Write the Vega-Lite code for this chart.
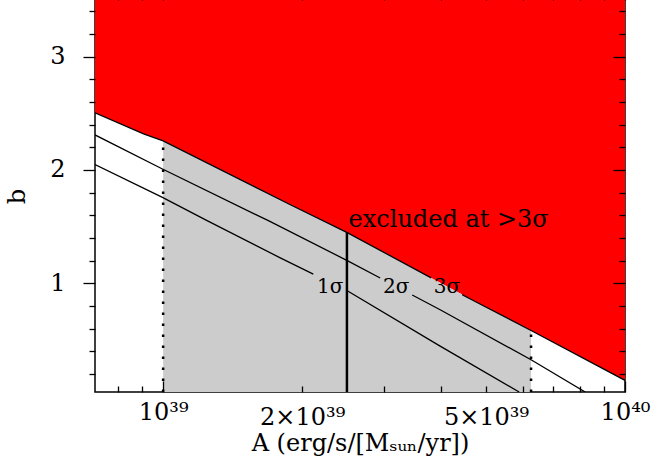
{
  "$schema": "https://vega.github.io/schema/vega-lite/v6.json",
  "width": 530,
  "height": 392,
  "autosize": {"type": "none"},
  "padding": {"left": 95, "top": 0, "right": 47, "bottom": 73},
  "background": "white",
  "config": {
    "view": {"stroke": "black", "strokeWidth": 1.5},
    "axis": {
      "domain": false, "grid": false, "tickColor": "black", "tickWidth": 1.3,
      "labelFont": "DejaVu Serif", "titleFont": "DejaVu Serif",
      "labelFontSize": 24, "titleFontSize": 24, "titleFontWeight": "normal",
      "labelColor": "black", "titleColor": "black", "labelOverlap": false, "labelFlush": false, "labelBound": false
    }
  },
  "datasets": {
    "boundary": [
      {"A": 7.12e38, "b": 2.504}, {"A": 9.07e38, "b": 2.319}, {"A": 1e39, "b": 2.257},
      {"A": 1.886e39, "b": 1.693}, {"A": 2.504e39, "b": 1.447}, {"A": 3.805e39, "b": 1.047},
      {"A": 4.44e39, "b": 0.9}, {"A": 4.692e39, "b": 0.848}, {"A": 6.26e39, "b": 0.583},
      {"A": 1e40, "b": 0.143}
    ],
    "contours": [
      {"A": 7.12e38, "b": 2.048, "seg": "1σ a"}, {"A": 9.966e38, "b": 1.758, "seg": "1σ a"},
      {"A": 1.245e39, "b": 1.552, "seg": "1σ a"}, {"A": 1.793e39, "b": 1.224, "seg": "1σ a"},
      {"A": 2.114e39, "b": 1.081, "seg": "1σ a"},
      {"A": 2.504e39, "b": 0.934, "seg": "1σ b"}, {"A": 3.979e39, "b": 0.445, "seg": "1σ b"},
      {"A": 5.9e39, "b": 0.04, "seg": "1σ b"},
      {"A": 7.12e38, "b": 2.309, "seg": "2σ a"}, {"A": 9.966e38, "b": 2.008, "seg": "2σ a"},
      {"A": 1.69e39, "b": 1.552, "seg": "2σ a"}, {"A": 2.504e39, "b": 1.2, "seg": "2σ a"},
      {"A": 2.951e39, "b": 1.046, "seg": "2σ a"},
      {"A": 3.462e39, "b": 0.896, "seg": "2σ b"}, {"A": 3.979e39, "b": 0.766, "seg": "2σ b"},
      {"A": 6.26e39, "b": 0.325, "seg": "2σ b"}, {"A": 8.2e39, "b": 0.04, "seg": "2σ b"},
      {"A": 7.12e38, "b": 2.504, "seg": "3σ a"}, {"A": 9.07e38, "b": 2.319, "seg": "3σ a"},
      {"A": 1e39, "b": 2.257, "seg": "3σ a"}, {"A": 1.886e39, "b": 1.693, "seg": "3σ a"},
      {"A": 2.504e39, "b": 1.447, "seg": "3σ a"}, {"A": 3.805e39, "b": 1.047, "seg": "3σ a"},
      {"A": 4.44e39, "b": 0.9, "seg": "3σ b"}, {"A": 4.692e39, "b": 0.848, "seg": "3σ b"},
      {"A": 6.26e39, "b": 0.583, "seg": "3σ b"}, {"A": 1e40, "b": 0.143, "seg": "3σ b"}
    ],
    "vlines": [
      {"A": 1e39, "b0": 0.04, "b1": 2.257, "kind": "limit"},
      {"A": 6.26e39, "b0": 0.04, "b1": 0.583, "kind": "limit"},
      {"A": 2.5e39, "b0": 0.04, "b1": 1.45, "kind": "best"}
    ],
    "sigmalabels": [
      {"A": 2.301e39, "b": 0.914, "text": "1σ"},
      {"A": 3.197e39, "b": 0.914, "text": "2σ"},
      {"A": 4.116e39, "b": 0.914, "text": "3σ"}
    ],
    "note": [
      {"A": 2.52e39, "b": 1.499, "text": "excluded at >3σ"}
    ]
  },
  "layer": [
    {
      "data": {"name": "boundary"},
      "mark": {"type": "area", "color": "#ff0000", "clip": true},
      "encoding": {
        "x": {"field": "A", "type": "quantitative",
          "scale": {"type": "log", "domain": [7.12e38, 1e40], "nice": false},
          "axis": {"orient": "top", "zindex": 2, "values": [8e38, 9e38, 1e39, 2e39, 3e39, 4e39, 5e39, 6e39, 7e39, 8e39, 9e39, 1e40],
            "labels": false, "title": null,
            "tickSize": {"condition": {"test": "datum.value == 1e39 || datum.value == 1e40", "value": 11}, "value": 6}}},
        "y": {"field": "b", "type": "quantitative",
          "scale": {"domain": [0.04, 3.5], "nice": false, "zero": false},
          "axis": {"orient": "right", "zindex": 2, "values": [0.2, 0.4, 0.6, 0.8, 1, 1.2, 1.4, 1.6, 1.8, 2, 2.2, 2.4, 2.6, 2.8, 3, 3.2, 3.4],
            "labels": false, "title": null,
            "tickSize": {"condition": {"test": "datum.value == 1 || datum.value == 2 || datum.value == 3", "value": -12}, "value": -6}}},
        "y2": {"datum": 3.5}
      }
    },
    {
      "data": {"name": "boundary"},
      "transform": [{"filter": "datum.A >= 1e39 && datum.A <= 6.26e39"}],
      "mark": {"type": "area", "color": "#cccccc", "clip": true},
      "encoding": {
        "x": {"field": "A", "type": "quantitative",
          "axis": {"orient": "bottom", "zindex": 2, "values": [8e38, 9e38, 1e39, 2e39, 3e39, 4e39, 5e39, 6e39, 7e39, 8e39, 9e39, 1e40],
            "labelExpr": "datum.value == 1e39 ? '10³⁹' : datum.value == 2e39 ? '2×10³⁹' : datum.value == 5e39 ? '5×10³⁹' : datum.value == 1e40 ? '10⁴⁰' : ''",
            "tickSize": {"condition": {"test": "datum.value == 1e39 || datum.value == 1e40", "value": -11}, "value": -6},
            "labelPadding": 19, "titlePadding": 2,
            "title": "A (erg/s/[Mₛᵤₙ/yr])"}},
        "y": {"field": "b", "type": "quantitative",
          "axis": {"orient": "left", "zindex": 2, "values": [0.2, 0.4, 0.6, 0.8, 1, 1.2, 1.4, 1.6, 1.8, 2, 2.2, 2.4, 2.6, 2.8, 3, 3.2, 3.4],
            "labelExpr": "datum.value == 1 || datum.value == 2 || datum.value == 3 ? '' + datum.value : ''",
            "tickSize": {"condition": {"test": "datum.value == 1 || datum.value == 2 || datum.value == 3", "value": 12}, "value": 6},
            "labelPadding": 18, "titlePadding": 20, "title": "b"}},
        "y2": {"datum": 0.04}
      }
    },
    {
      "data": {"name": "contours"},
      "mark": {"type": "line", "color": "black", "strokeWidth": 1.3, "clip": true},
      "encoding": {
        "x": {"field": "A", "type": "quantitative", "axis": null},
        "y": {"field": "b", "type": "quantitative", "axis": null},
        "detail": {"field": "seg"}
      }
    },
    {
      "data": {"name": "vlines"},
      "transform": [{"filter": "datum.kind == 'limit'"}],
      "mark": {"type": "rule", "color": "black", "strokeWidth": 2.5, "strokeDash": [2.5, 8.5]},
      "encoding": {
        "x": {"field": "A", "type": "quantitative", "axis": null},
        "y": {"field": "b0", "type": "quantitative", "axis": null},
        "y2": {"field": "b1"}
      }
    },
    {
      "data": {"name": "vlines"},
      "transform": [{"filter": "datum.kind == 'best'"}],
      "mark": {"type": "rule", "color": "black", "strokeWidth": 2.5},
      "encoding": {
        "x": {"field": "A", "type": "quantitative", "axis": null},
        "y": {"field": "b0", "type": "quantitative", "axis": null},
        "y2": {"field": "b1"}
      }
    },
    {
      "data": {"name": "sigmalabels"},
      "mark": {"type": "text", "font": "DejaVu Serif", "fontSize": 20, "align": "center", "baseline": "alphabetic", "color": "black"},
      "encoding": {
        "x": {"field": "A", "type": "quantitative", "axis": null},
        "y": {"field": "b", "type": "quantitative", "axis": null},
        "text": {"field": "text"}
      }
    },
    {
      "data": {"name": "note"},
      "mark": {"type": "text", "font": "DejaVu Serif", "fontSize": 24, "align": "left", "baseline": "alphabetic", "color": "black"},
      "encoding": {
        "x": {"field": "A", "type": "quantitative", "axis": null},
        "y": {"field": "b", "type": "quantitative", "axis": null},
        "text": {"field": "text"}
      }
    }
  ],
  "resolve": {"axis": {"x": "independent", "y": "independent"}}
}
